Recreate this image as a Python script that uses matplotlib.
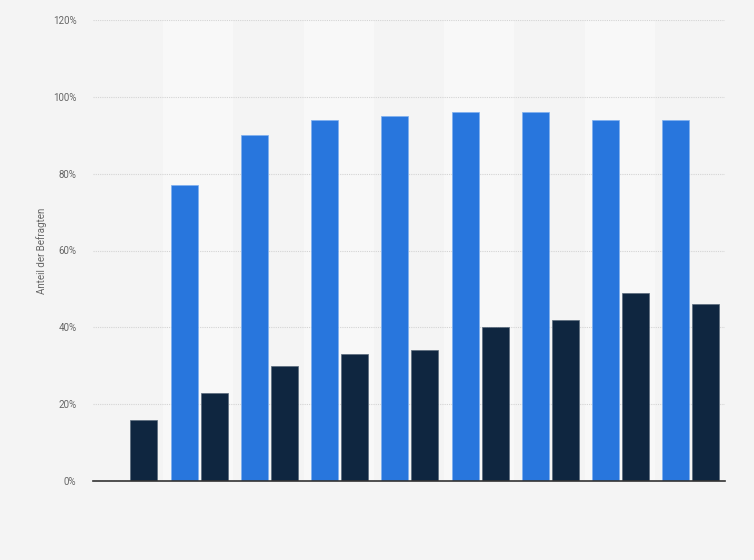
import numpy as np
import matplotlib
matplotlib.use("Agg")
import matplotlib.pyplot as plt

plt.rcParams["font.family"] = ["Roboto", "DejaVu Sans"]

groups = list(range(9))
blue_values = [np.nan, 77, 90, 94, 95, 96, 96, 94, 94]
dark_values = [16, 23, 30, 33, 34, 40, 42, 49, 46]
yticks = [0, 20, 40, 60, 80, 100, 120]
ytick_labels = ["0%", "20%", "40%", "60%", "80%", "100%", "120%"]

fig = plt.figure(figsize=(7.54, 5.6), dpi=100)
fig.patch.set_facecolor("#f4f4f4")
ax = fig.add_axes([93/754, 79/560, 632/754, 461/560])
ax.set_facecolor("#f4f4f4")

x = np.arange(len(groups))
ax.set_xlim(-0.5, len(groups) - 0.5)
ax.set_ylim(0, 120)

for i in x:
    if i % 2 == 1:
        ax.axvspan(i - 0.5, i + 0.5, color="#f8f8f8", zorder=0, lw=0)

ax.set_yticks(yticks)
ax.set_yticklabels(ytick_labels)
ax.yaxis.grid(True, linestyle=(0, (1, 1)), color="#d4d4d4", linewidth=0.8, zorder=1)
ax.set_axisbelow(True)

w = 0.385
ax.bar(x - 0.2, blue_values, width=w, color="#2876dd", edgecolor="#7fb0f0",
       linewidth=0.5, zorder=3)
ax.bar(x + 0.225, dark_values, width=w, color="#0f2640", edgecolor="#5a6a7c",
       linewidth=0.5, zorder=3)

for s in ["top", "right", "left"]:
    ax.spines[s].set_visible(False)
ax.spines["bottom"].set_color("#333333")
ax.spines["bottom"].set_linewidth(1.2)
ax.spines["bottom"].set_zorder(4)

ax.set_xticks([])
ax.tick_params(axis="y", length=0, pad=12, labelsize=7, labelcolor="#666666")
ax.set_ylabel("Anteil der Befragten", fontsize=7, color="#666666", labelpad=4)

fig.savefig("out.png", dpi=100, facecolor=fig.get_facecolor())
